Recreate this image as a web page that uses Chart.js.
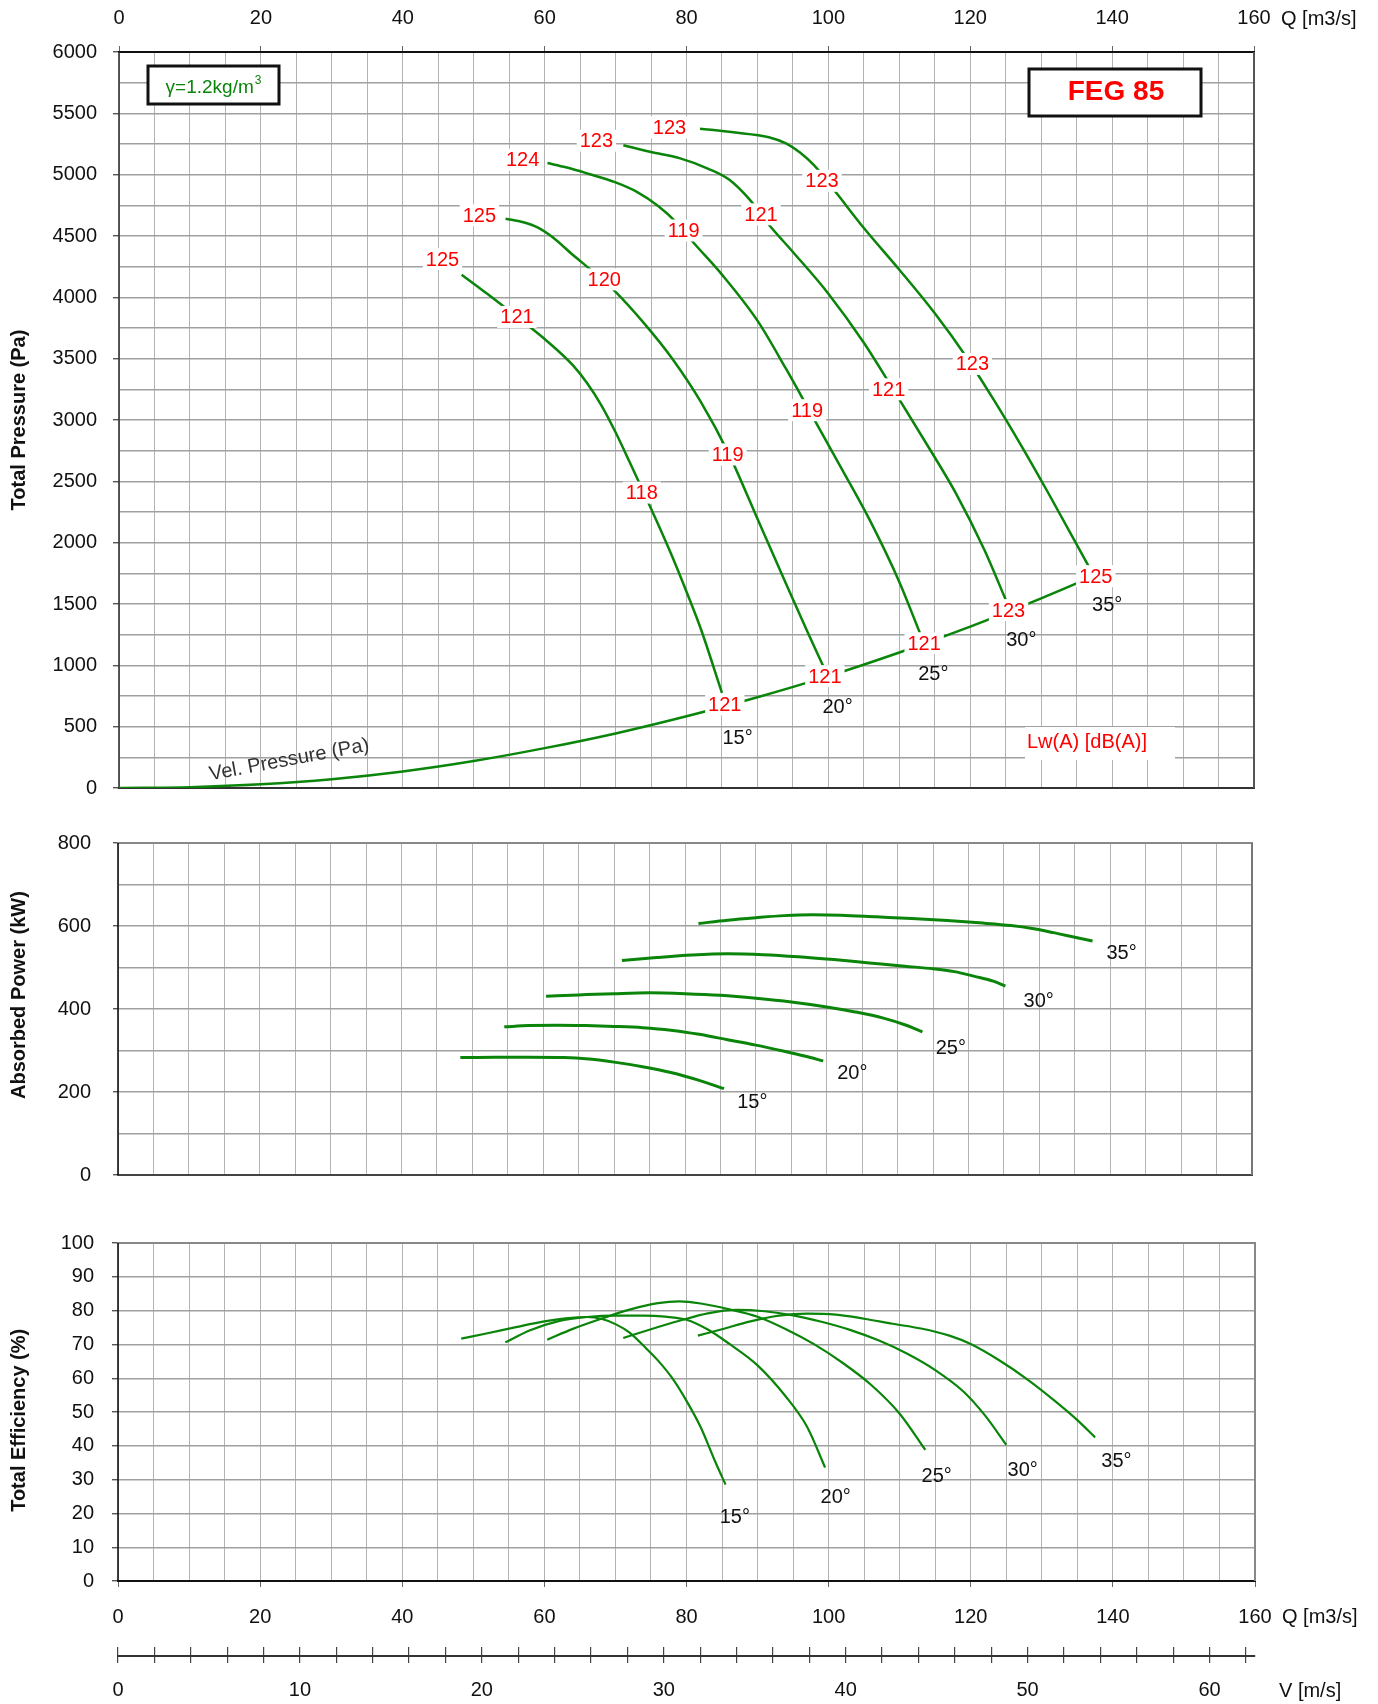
<!DOCTYPE html>
<html>
<head>
<meta charset="utf-8">
<script src="https://cdn.jsdelivr.net/npm/chart.js@4.4.0/dist/chart.umd.min.js"></script>
<style>
html,body{margin:0;padding:0;background:#fff;}
#page{position:relative;width:1378px;height:1704px;overflow:hidden;background:#fff;}
#page canvas{position:absolute;left:0;}
</style>
</head>
<body>
<div id="page">
<canvas id="cP" width="1378" height="816" style="top:0px"></canvas>
<canvas id="cK" width="1378" height="409" style="top:800px"></canvas>
<canvas id="cE" width="1378" height="440" style="top:1200px"></canvas>
<canvas id="cV" width="1378" height="64" style="top:1640px"></canvas>
</div>
<script>
// ---------- tick labels ----------
const qTickLabels = [0, 20, 40, 60, 80, 100, 120, 140, 160];
const vTickLabels = [0, 10, 20, 30, 40, 50, 60];
const pTickLabels = [0, 500, 1000, 1500, 2000, 2500, 3000, 3500, 4000, 4500, 5000, 5500, 6000];
const kwTickLabels = [0, 200, 400, 600, 800];
const effTickLabels = [0, 10, 20, 30, 40, 50, 60, 70, 80, 90, 100];
const angleNames = ['15°', '20°', '25°', '30°', '35°'];

// ---------- total pressure (Pa) vs Q (m3/s) ----------
const q15 = [48.3, 52, 56, 60, 64, 66, 68, 70, 72, 74, 76, 78, 80, 82, 85];
const p15 = [4185, 4025, 3845, 3660, 3445, 3300, 3120, 2900, 2655, 2405, 2150, 1885, 1600, 1300, 775];
const q20 = [54.5, 57, 59, 61, 64, 67, 70, 74, 78, 82, 86, 90, 94, 97, 99.3];
const p20 = [4641, 4612, 4570, 4495, 4345, 4200, 4045, 3790, 3500, 3150, 2720, 2195, 1670, 1280, 990];
const q25 = [60.4, 63, 66, 70, 73, 76, 78.5, 81, 85, 90, 94, 98, 102, 106, 110, 112.9];
const p25 = [5095, 5060, 5010, 4937, 4860, 4745, 4615, 4445, 4185, 3810, 3420, 3005, 2590, 2165, 1680, 1264];
const q30 = [71.1, 75, 79, 83, 86, 89, 91.5, 95, 100, 105, 109.5, 114, 118, 122, 125];
const p30 = [5240, 5185, 5135, 5050, 4960, 4790, 4600, 4370, 4030, 3630, 3215, 2790, 2400, 1940, 1535];
const q35 = [81.9, 86.6, 91.6, 94.1, 96, 98, 101, 105, 110, 115, 119.5, 123.3, 127, 131, 136.7];
const p35 = [5375, 5345, 5305, 5253, 5180, 5075, 4860, 4565, 4225, 3870, 3510, 3166, 2810, 2405, 1807];
const qVel = [0, 10, 20, 30, 40, 50, 60, 70, 80, 90, 100, 110, 120, 130, 135.5];
const pVel = [0, 7, 30, 72, 135, 220, 325, 445, 585, 740, 912, 1105, 1316, 1546, 1680];

// sound power labels Lw(A) on the pressure chart
const lwQ = [45.6, 56.1, 73.7, 85.4, 50.8, 68.4, 85.8, 99.5, 56.9, 79.6, 97.0, 113.5, 67.3, 90.5, 108.5, 125.4, 77.6, 99.1, 120.3, 137.7];
const lwP = [4312, 3840, 2408, 681, 4668, 4146, 2719, 912, 5122, 4545, 3080, 1180, 5277, 4677, 3250, 1450, 5385, 4950, 3457, 1727];
const lwText = ['125', '121', '118', '121', '125', '120', '119', '121', '124', '119', '119', '121', '123', '121', '121', '123', '123', '123', '123', '125'];
const angPQ = [87.2, 101.3, 114.8, 127.2, 139.3];
const angPP = [408, 662, 935, 1210, 1500];

// ---------- absorbed power (kW) ----------
const kq15 = [48.3, 53, 58, 63, 66, 70, 74, 78, 82, 85.5];
const kw15 = [283, 284, 284, 283, 280, 272, 261, 247, 228, 208];
const kq20 = [54.5, 58, 62, 66, 70, 74, 78, 82, 86, 90, 94, 97, 99.5];
const kw20 = [357, 360, 361, 360, 358, 355, 349, 339, 326, 313, 298, 286, 275];
const kq25 = [60.4, 65, 70, 75, 80, 85, 90, 95, 100, 104, 108, 111, 113.5];
const kw25 = [431, 434, 437, 439, 437, 433, 426, 417, 405, 393, 378, 362, 345];
const kq30 = [71.1, 76, 81, 86, 91, 96, 101, 106, 111, 115, 118, 121, 123.5, 125.2];
const kw30 = [517, 524, 530, 533, 531, 526, 519, 511, 503, 497, 490, 478, 467, 455];
const kq35 = [81.9, 86, 90, 94, 98, 102, 107, 112, 117, 122, 126, 129, 132, 135, 137.5];
const kw35 = [606, 614, 620, 625, 627, 626, 622, 618, 613, 607, 601, 594, 584, 573, 564];
const angKQ = [89.5, 103.6, 117.5, 129.9, 141.6];
const angKW = [176, 246, 308, 421, 537];

// ---------- total efficiency (%) ----------
const eq15 = [48.3, 52, 56, 60, 63, 66, 68, 70, 72, 74, 76, 78, 80, 82, 84, 85.5];
const e15 = [71.7, 73.3, 75.1, 76.8, 77.7, 78.1, 77.6, 76.0, 73.5, 69.5, 65.2, 60.0, 53.3, 45.5, 35.5, 28.5];
const eq20 = [54.5, 58, 62, 66, 70, 74, 77, 80, 83, 86, 90, 94, 97, 99.5];
const e20 = [70.6, 74.2, 76.9, 78.1, 78.5, 78.5, 78.2, 77.3, 74.4, 70.2, 63.8, 54.5, 45.5, 33.6];
const eq25 = [60.4, 64, 68, 72, 76, 79, 82, 86, 90, 94, 98, 102, 106, 110, 113.6];
const e25 = [71.4, 74.6, 77.6, 80.3, 82.2, 82.7, 82.1, 80.4, 78.2, 74.5, 70.0, 64.5, 58.0, 49.5, 38.8];
const eq30 = [71.1, 75, 79, 83, 87, 91, 95, 99, 103, 107, 111, 115, 119, 122, 125];
const e30 = [71.9, 74.5, 77.0, 79.2, 80.2, 79.8, 78.6, 76.7, 74.3, 71.2, 67.3, 62.4, 56.0, 49.0, 40.3];
const eq35 = [81.6, 85, 89, 93, 97, 101, 105, 109, 113, 117, 120, 124, 128, 132, 135, 137.5];
const e35 = [72.6, 74.5, 76.8, 78.5, 79.1, 78.8, 77.6, 76.1, 74.7, 72.6, 70.1, 65.3, 59.6, 53.0, 47.6, 42.5];
const angEQ = [86.8, 101.0, 115.2, 127.3, 140.5];
const angEE = [19.1, 25.0, 31.1, 33.1, 35.8];

// axis ranges
const qMax = 160;
const vMax = 62.5;

// ---------- styling ----------
const FONT = '"Liberation Sans", Arial, Helvetica, sans-serif';
const GREEN = '#0a850a';
const TXT = '#111';

function series(q, v, w) {
  return {
    data: q.map((x, i) => ({ x: x, y: v[i] })),
    borderColor: GREEN, borderWidth: w, pointRadius: 0, fill: false,
    cubicInterpolationMode: 'monotone'
  };
}

function xScale(pos, showLabels, height, pad) {
  return {
    type: 'linear', position: pos, min: 0, max: qMax,
    afterFit: s => { s.height = height; },
    ticks: {
      display: showLabels, stepSize: 5, autoSkip: false, maxRotation: 0, padding: pad,
      color: TXT, font: { family: FONT, size: 20 },
      callback: v => qTickLabels.includes(v) ? String(v) : ''
    },
    grid: {
      color: '#b4b4b4', lineWidth: 1, drawTicks: showLabels, tickLength: 6,
      tickColor: c => (c.tick && qTickLabels.includes(c.tick.value)) ? '#666' : 'rgba(0,0,0,0)'
    },
    border: { display: false }
  };
}

function yScale(max, step, labels, width, tickLen, pad, title) {
  return {
    type: 'linear', min: 0, max: max,
    afterFit: s => { s.width = width; },
    ticks: {
      stepSize: step, autoSkip: false, padding: pad, color: TXT,
      font: { family: FONT, size: 20 },
      callback: v => labels.includes(v) ? String(v) : ''
    },
    grid: {
      color: '#a0a0a0', lineWidth: 1.4, tickLength: tickLen,
      tickColor: c => (c.tick && labels.includes(c.tick.value)) ? '#555' : 'rgba(0,0,0,0)'
    },
    border: { display: false },
    title: {
      display: true, text: title, color: TXT,
      font: { family: FONT, size: 20, weight: 'bold' }, padding: { top: 7, bottom: 0 }
    }
  };
}

const framePlugin = {
  id: 'frame',
  beforeDatasetsDraw(chart, args, o) {
    const { left, right, top, bottom } = chart.chartArea;
    const ctx = chart.ctx;
    ctx.save();
    const side = (x1, y1, x2, y2, c, w) => {
      ctx.beginPath(); ctx.strokeStyle = c; ctx.lineWidth = w;
      ctx.moveTo(x1, y1); ctx.lineTo(x2, y2); ctx.stroke();
    };
    side(left - 1, top, right + 1, top, o.top, 2);
    side(left - 1, bottom, right + 1, bottom, o.bottom, 2);
    side(right, top, right, bottom, o.right, 2);
    side(left, top, left, bottom, o.left, 1.6);
    ctx.restore();
  }
};

function putText(ctx, t, x, y, color, bg, font) {
  ctx.font = font;
  ctx.textAlign = 'center';
  ctx.textBaseline = 'middle';
  if (bg) {
    const w = ctx.measureText(t).width;
    ctx.fillStyle = bg;
    ctx.fillRect(x - w / 2 - 3, y - 11, w + 6, 22);
  }
  ctx.fillStyle = color;
  ctx.fillText(t, x, y + 1);
}

const baseOpts = {
  responsive: false, animation: false, events: [],
  plugins: { legend: { display: false }, tooltip: { enabled: false } }
};

// ================= Chart 1: total pressure =================
new Chart(document.getElementById('cP'), {
  type: 'line',
  data: { datasets: [series(qVel, pVel, 2.5), series(q15, p15, 2.5), series(q20, p20, 2.5),
                     series(q25, p25, 2.5), series(q30, p30, 2.5), series(q35, p35, 2.5)] },
  options: Object.assign({}, baseOpts, {
    layout: { padding: { left: 0, top: 0, right: 124, bottom: 12 } },
    plugins: Object.assign({}, baseOpts.plugins, { frame: { top: '#111', bottom: '#333', right: '#555', left: '#333' } }),
    scales: {
      x: xScale('top', true, 52, 16),
      y: yScale(6000, 250, pTickLabels, 119, 6, 16, 'Total Pressure (Pa)')
    }
  }),
  plugins: [framePlugin, {
    id: 'pressureText',
    afterDatasetsDraw(chart) {
      const ctx = chart.ctx, xs = chart.scales.x, ys = chart.scales.y;
      ctx.save();
      lwText.forEach((t, i) => putText(ctx, t, xs.getPixelForValue(lwQ[i]), ys.getPixelForValue(lwP[i]), '#ff0000', '#fff', '20px ' + FONT));
      angleNames.forEach((t, i) => putText(ctx, t, xs.getPixelForValue(angPQ[i]), ys.getPixelForValue(angPP[i]), TXT, null, '20px ' + FONT));
      ctx.save();
      ctx.translate(289, 759);
      ctx.rotate(-10.5 * Math.PI / 180);
      putText(ctx, 'Vel. Pressure (Pa)', 0, 0, '#333', null, '20px ' + FONT);
      ctx.restore();
      ctx.fillStyle = '#fff';
      ctx.fillRect(1025, 727, 150, 33);
      putText(ctx, 'Lw(A) [dB(A)]', 1087, 741, '#ff0000', null, '20px ' + FONT);
      ctx.fillStyle = '#fff';
      ctx.fillRect(148, 66, 131, 38);
      ctx.lineWidth = 3; ctx.strokeStyle = '#111';
      ctx.strokeRect(148, 66, 131, 38);
      ctx.font = '19px ' + FONT;
      const main = 'γ=1.2kg/m';
      const w1 = ctx.measureText(main).width;
      ctx.font = '12px ' + FONT;
      const w2 = ctx.measureText('3').width;
      const sx = 213 - (w1 + w2) / 2;
      ctx.textAlign = 'left'; ctx.textBaseline = 'alphabetic';
      ctx.fillStyle = '#0a850a';
      ctx.font = '19px ' + FONT;
      ctx.fillText(main, sx, 93);
      ctx.font = '12px ' + FONT;
      ctx.fillText('3', sx + w1 + 1, 84);
      ctx.fillStyle = '#fff';
      ctx.fillRect(1029, 69, 172, 47);
      ctx.lineWidth = 3; ctx.strokeStyle = '#111';
      ctx.strokeRect(1029, 69, 172, 47);
      putText(ctx, 'FEG 85', 1116, 91, '#ff0000', null, 'bold 28px ' + FONT);
      ctx.font = '20px ' + FONT; ctx.textAlign = 'left'; ctx.textBaseline = 'middle'; ctx.fillStyle = TXT;
      ctx.fillText('Q [m3/s]', xs.getPixelForValue(qMax) + 27, 19);
      ctx.restore();
    }
  }]
});

// ================= Chart 2: absorbed power =================
new Chart(document.getElementById('cK'), {
  type: 'line',
  data: { datasets: [series(kq15, kw15, 3), series(kq20, kw20, 3), series(kq25, kw25, 3),
                     series(kq30, kw30, 3), series(kq35, kw35, 3)] },
  options: Object.assign({}, baseOpts, {
    layout: { padding: { left: 0, top: 43, right: 126, bottom: 0 } },
    plugins: Object.assign({}, baseOpts.plugins, { frame: { top: '#888', bottom: '#444', right: '#777', left: '#111' } }),
    scales: {
      x: xScale('bottom', false, 26, 0),
      y: yScale(800, 100, kwTickLabels, 118, 5, 22, '     Absorbed Power (kW)')
    }
  }),
  plugins: [framePlugin, {
    id: 'powerText',
    afterDatasetsDraw(chart) {
      const ctx = chart.ctx, xs = chart.scales.x, ys = chart.scales.y;
      ctx.save();
      angleNames.forEach((t, i) => putText(ctx, t, xs.getPixelForValue(angKQ[i]), ys.getPixelForValue(angKW[i]), TXT, null, '20px ' + FONT));
      ctx.restore();
    }
  }]
});

// ================= Chart 3: total efficiency =================
new Chart(document.getElementById('cE'), {
  type: 'line',
  data: { datasets: [series(eq15, e15, 2.2), series(eq20, e20, 2.2), series(eq25, e25, 2.2),
                     series(eq30, e30, 2.2), series(eq35, e35, 2.2)] },
  options: Object.assign({}, baseOpts, {
    layout: { padding: { left: 0, top: 43, right: 123, bottom: 0 } },
    plugins: Object.assign({}, baseOpts.plugins, { frame: { top: '#888', bottom: '#111', right: '#888', left: '#111' } }),
    scales: {
      x: xScale('bottom', true, 59, 18),
      y: yScale(100, 10, effTickLabels, 118, 6, 18, 'Total Efficiency (%)   ')
    }
  }),
  plugins: [framePlugin, {
    id: 'effText',
    afterDatasetsDraw(chart) {
      const ctx = chart.ctx, xs = chart.scales.x, ys = chart.scales.y;
      ctx.save();
      angleNames.forEach((t, i) => putText(ctx, t, xs.getPixelForValue(angEQ[i]), ys.getPixelForValue(angEE[i]), TXT, null, '20px ' + FONT));
      ctx.font = '20px ' + FONT; ctx.textAlign = 'left'; ctx.textBaseline = 'middle'; ctx.fillStyle = TXT;
      ctx.fillText('Q [m3/s]', xs.getPixelForValue(qMax) + 27, 417);
      ctx.restore();
    }
  }]
});

// ================= Chart 4: velocity axis =================
new Chart(document.getElementById('cV'), {
  type: 'line',
  data: { datasets: [] },
  options: Object.assign({}, baseOpts, {
    layout: { padding: { left: 118, top: 7, right: 123, bottom: 0 } },
    scales: {
      x: {
        type: 'linear', position: 'bottom', min: 0, max: vMax,
        afterFit: s => { s.height = 48; },
        ticks: {
          stepSize: 2, includeBounds: false, autoSkip: false, maxRotation: 0, padding: 15,
          color: TXT, font: { family: FONT, size: 20 },
          callback: v => vTickLabels.includes(v) ? String(v) : ''
        },
        grid: { color: '#444', lineWidth: 1.2, tickLength: 7, tickColor: '#444' },
        border: { display: true, color: '#333', width: 2 }
      },
      y: { display: false, min: 0, max: 1 }
    }
  }),
  plugins: [{
    id: 'vText',
    afterDraw(chart) {
      const ctx = chart.ctx;
      ctx.save();
      ctx.font = '20px ' + FONT; ctx.textAlign = 'left'; ctx.textBaseline = 'middle'; ctx.fillStyle = TXT;
      ctx.fillText('V [m/s]', 1279, 51);
      ctx.restore();
    }
  }]
});
</script>
</body>
</html>
